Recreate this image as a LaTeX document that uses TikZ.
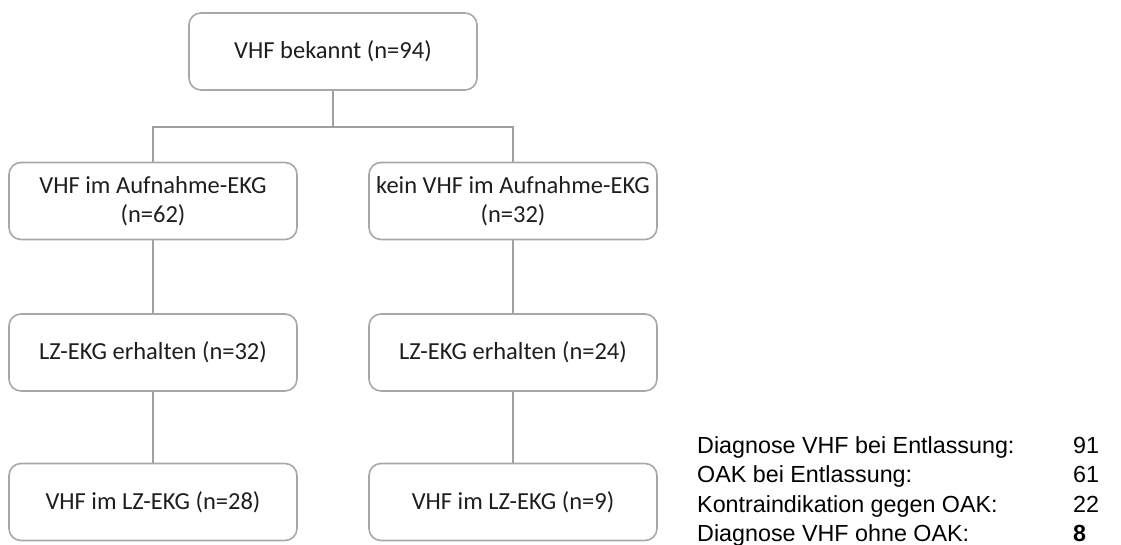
\documentclass[tikz,border=0pt]{standalone}
\usepackage{fontspec}
\setmainfont{Carlito}
\newfontfamily\arialfont{Liberation Sans}
\definecolor{boxline}{HTML}{A8A8A8}
\definecolor{linkline}{HTML}{A0A0A0}
\definecolor{boxtext}{HTML}{1E1E1E}
\begin{document}
\begin{tikzpicture}[x=1pt,y=-1pt,
  flowbox/.style={draw=boxline, line width=1.6pt, rounded corners=12pt,
    minimum width=288pt, minimum height=77pt, inner sep=0pt, align=center,
    text=boxtext, font=\fontsize{24.5}{29}\selectfont},
  link/.style={draw=linkline, line width=1.8pt},
  sumtext/.style={anchor=base west, inner sep=0pt,
    font=\arialfont\fontsize{23.3}{28}\selectfont}]
  \useasboundingbox (0,0) rectangle (1121,544);

  % flow chart boxes
  \node[flowbox] (top) at (333,51.5) {VHF bekannt (n=94)};
  \node[flowbox] (l1) at (153,201) {VHF im Aufnahme-EKG\\(n=62)};
  \node[flowbox] (r1) at (513,201) {kein VHF im Aufnahme-EKG\\(n=32)};
  \node[flowbox] (l2) at (153,352.5) {LZ-EKG erhalten (n=32)};
  \node[flowbox] (r2) at (513,352.5) {LZ-EKG erhalten (n=24)};
  \node[flowbox] (l3) at (153,502) {VHF im LZ-EKG (n=28)};
  \node[flowbox] (r3) at (513,502) {VHF im LZ-EKG (n=9)};

  % connectors
  \coordinate (split) at (333,127);
  \draw[link] (top.south) -- (split);
  \draw[link] (l1.north) |- (split) -| (r1.north);
  \draw[link] (l1.south) -- (l2.north);
  \draw[link] (r1.south) -- (r2.north);
  \draw[link] (l2.south) -- (l3.north);
  \draw[link] (r2.south) -- (r3.north);

  % summary table
  \node[sumtext] (s1) at (697,453) {Diagnose VHF bei Entlassung:};
  \node[sumtext] (s2) at (697,482.5) {OAK bei Entlassung:};
  \node[sumtext] (s3) at (697,512) {Kontraindikation gegen OAK:};
  \node[sumtext] (s4) at (697,541) {Diagnose VHF ohne OAK:};
  \node[sumtext] (v1) at (1073,453) {91};
  \node[sumtext] (v2) at (1073,482.5) {61};
  \node[sumtext] (v3) at (1073,512) {22};
  \node[sumtext, font=\arialfont\bfseries\fontsize{23.3}{28}\selectfont] (v4) at (1073,541) {8};
\end{tikzpicture}
\end{document}
